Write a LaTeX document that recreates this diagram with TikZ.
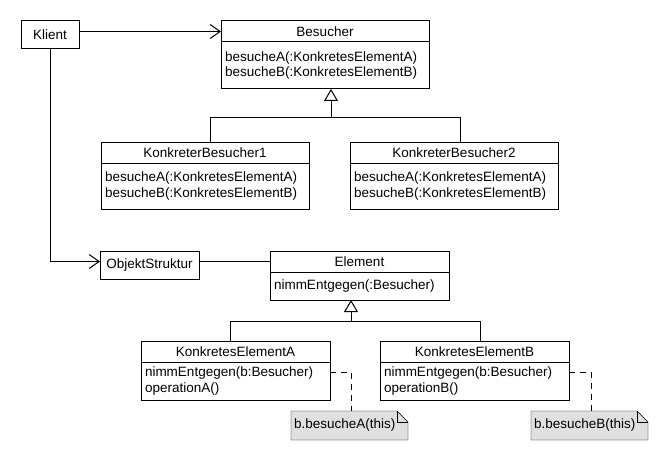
\documentclass[tikz,border=0pt]{standalone}
\usepackage{fontspec}
\setmainfont{Liberation Sans}
\usetikzlibrary{arrows.meta,positioning,backgrounds}
\definecolor{notegrey}{HTML}{E0E0E0}
\tikzset{
  classhead/.style={draw,anchor=north west,inner sep=0pt,outer sep=0pt,minimum height=21pt},
  classbody/.style={draw,inner xsep=4pt,inner ysep=2pt,outer sep=0pt,align=left},
  plainbox/.style={draw,anchor=north west,inner sep=0pt,outer sep=0pt,minimum height=28pt},
  notebox/.style={anchor=north west,inner xsep=3pt,inner ysep=0pt,outer sep=0pt,
    text width=111pt,align=left,minimum height=29pt},
  assoc/.style={-{Straight Barb[length=10pt,width=14pt]}},
  inherit/.style={-{Triangle[open,length=12pt,width=14pt]}},
  noteline/.style={dash pattern=on 6pt off 5pt},
}

\begin{document}
\begin{tikzpicture}[x=1pt,y=-1pt,line width=1pt,font=\fontsize{13.5pt}{15.5pt}\selectfont]
\useasboundingbox (0,0) rectangle (670,460);
% visitor side
\node[plainbox,minimum width=58pt] (klient) at (21,21) {Klient};
\node[classhead,minimum width=208pt] (besh) at (221,21) {Besucher};
\node[classbody,below=0pt of besh,text width=200pt,minimum height=47pt] (besb)
  {besucheA(:KonkretesElementA)\\besucheB(:KonkretesElementB)};
\node[classhead,minimum width=208pt] (kb1h) at (101,142) {KonkreterBesucher1};
\node[classbody,below=0pt of kb1h,text width=200pt,minimum height=46pt] (kb1b)
  {besucheA(:KonkretesElementA)\\besucheB(:KonkretesElementB)};
\node[classhead,minimum width=208pt] (kb2h) at (350,142) {KonkreterBesucher2};
\node[classbody,below=0pt of kb2h,text width=200pt,minimum height=46pt] (kb2b)
  {besucheA(:KonkretesElementA)\\besucheB(:KonkretesElementB)};
% element side
\node[plainbox,minimum width=99pt] (objekt) at (100,251) {ObjektStruktur};
\node[classhead,minimum width=179pt] (elh) at (270,251) {Element};
\node[classbody,below=0pt of elh,text width=171pt,minimum height=28pt] (elb)
  {nimmEntgegen(:Besucher)};
\node[classhead,minimum width=189pt] (keah) at (141,341) {KonkretesElementA};
\node[classbody,below=0pt of keah,text width=181pt,minimum height=38pt] (keab)
  {nimmEntgegen(b:Besucher)\\operationA()};
\node[classhead,minimum width=189pt] (kebh) at (380,341) {KonkretesElementB};
\node[classbody,below=0pt of kebh,text width=181pt,minimum height=38pt] (kebb)
  {nimmEntgegen(b:Besucher)\\operationB()};
\node[notebox] (notea) at (291,411) {b.besucheA(this)};
\node[notebox] (noteb) at (531,411) {b.besucheB(this)};

% connectors
\draw[assoc] (klient.east |- besh.west) -- (besh.west);
\draw[assoc] (klient.south) |- (objekt.west |- elh.west);
\draw (objekt.east |- elh.west) -- (elh.west);

\coordinate (busB) at (331,118);
\coordinate (busBL) at (210,118);
\coordinate (busBR) at (460,118);
\draw[inherit] (busB) -- (busB |- besb.south);
\draw (busBL |- kb1h.north) -- (busBL) -- (busBR) -- (busBR |- kb2h.north);

\coordinate (busE) at (351,321);
\coordinate (busEL) at (230,321);
\coordinate (busER) at (480,321);
\draw[inherit] (busE) -- (busE |- elb.south);
\draw (busEL |- keah.north) -- (busEL) -- (busER) -- (busER |- kebh.north);

\draw[noteline] ([yshift=-10pt]keab.north east) -| ([xshift=2pt]notea.north);
\draw[noteline] ([yshift=-10pt]kebb.north east) -| ([xshift=2pt]noteb.north);

% note outlines with folded corner
\begin{scope}[on background layer]
  \foreach \n in {notea,noteb} {
    \draw[fill=notegrey] (\n.south west) -- (\n.north west) -- ([xshift=-11pt]\n.north east)
      -- ([yshift=-11pt]\n.north east) -- (\n.south east) -- cycle;
    \draw ([xshift=-11pt]\n.north east) |- ([yshift=-11pt]\n.north east);
  }
\end{scope}
\end{tikzpicture}
\end{document}
